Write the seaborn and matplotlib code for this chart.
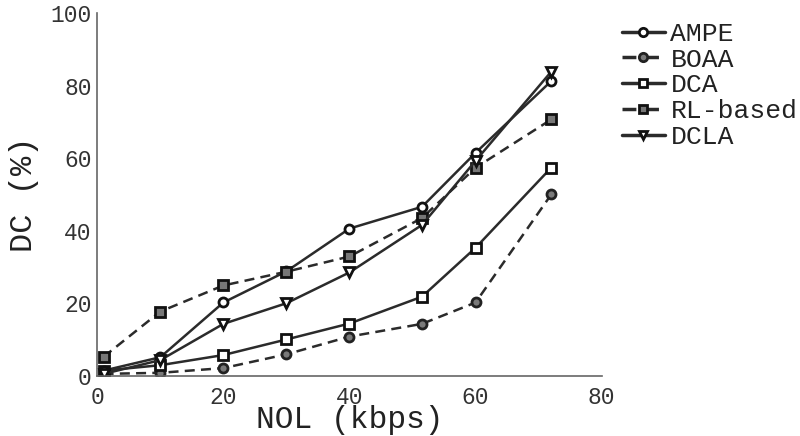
import matplotlib
matplotlib.use("Agg")
import matplotlib.pyplot as plt
import seaborn as sns
import pandas as pd
from matplotlib.lines import Line2D

# ---- data ----
nol = [1, 10, 20, 30, 40, 51.5, 60, 72]
ampe = [1.4, 5.1, 20.2, 28.8, 40.6, 46.6, 61.5, 81.3]
boaa = [0.5, 0.8, 2.1, 5.9, 10.8, 14.3, 20.2, 50.0]
dca = [1.4, 2.9, 5.7, 10.0, 14.4, 21.8, 35.3, 57.4]
rl_based = [5.2, 17.7, 24.9, 28.7, 32.9, 43.5, 57.4, 70.7]
dcla = [0.5, 4.3, 14.3, 20.0, 28.5, 41.6, 59.3, 83.9]
methods = ["AMPE", "BOAA", "DCA", "RL-based", "DCLA"]
x_ticks = [0, 20, 40, 60, 80]
y_ticks = [0, 20, 40, 60, 80, 100]

series = {"AMPE": ampe, "BOAA": boaa, "DCA": dca, "RL-based": rl_based, "DCLA": dcla}
df = pd.concat([pd.DataFrame({"NOL": nol, "DC": v, "Method": k}) for k, v in series.items()],
               ignore_index=True)

sns.set_theme(style="white")
plt.rcParams["font.family"] = ["Liberation Mono", "DejaVu Sans"]

line_c = "#2b2b2b"
dash = (0, (4, 2.5))
styles = {
    "AMPE": dict(marker="o", ls="-", mfc="white", mec="#111111"),
    "BOAA": dict(marker="o", ls=dash, mfc="#7a7a7a", mec="#222222"),
    "DCA": dict(marker="s", ls="-", mfc="white", mec="#111111"),
    "RL-based": dict(marker="s", ls=dash, mfc="#777777", mec="#111111"),
    "DCLA": dict(marker="v", ls="-", mfc="white", mec="#111111"),
}

fig = plt.figure(figsize=(8, 4.36), dpi=100)
ax = fig.add_axes([0.1216, 0.1383, 0.6305, 0.8312])

plot_order = ["BOAA", "DCA", "AMPE", "RL-based", "DCLA"]
for m in plot_order:
    st = styles[m]
    sns.lineplot(data=df[df["Method"] == m], x="NOL", y="DC", ax=ax, color=line_c,
                 linewidth=1.8, linestyle=st["ls"], marker=st["marker"],
                 markersize=6.5 if st["marker"] != "v" else 7.5,
                 markerfacecolor=st["mfc"], markeredgecolor=st["mec"],
                 markeredgewidth=2.0, errorbar=None, legend=False)

ax.set_xlim(0, 80)
ax.set_ylim(0, 100)
ax.set_xticks(x_ticks)
ax.set_yticks(y_ticks)
ax.tick_params(direction="in", length=5, width=1, color="#666666",
               labelsize=16.5, labelcolor="#333333", pad=4)
ax.tick_params(axis="x", pad=7.5)
for s in ["top", "right"]:
    ax.spines[s].set_visible(False)
for s in ["left", "bottom"]:
    ax.spines[s].set_color("#666666")
    ax.spines[s].set_linewidth(1.2)

ax.set_xlabel("NOL (kbps)", fontsize=22.5, color="#222222", labelpad=-3)
ax.set_ylabel("DC (%)", fontsize=23, color="#222222", labelpad=8)

handles = []
for m in methods:
    st = styles[m]
    handles.append(Line2D([], [], color=line_c, linewidth=2.5, linestyle=st["ls"],
                          marker=st["marker"], markersize=6,
                          markerfacecolor=st["mfc"], markeredgecolor=st["mec"],
                          markeredgewidth=2.0))
fig.legend(handles, methods, loc="upper left", bbox_to_anchor=(0.777, 0.95),
           frameon=False, fontsize=19, handlelength=1.65, handletextpad=0.2,
           labelspacing=0.07, borderpad=0, borderaxespad=0, labelcolor="#222222")

fig.savefig("out.png", dpi=100)
